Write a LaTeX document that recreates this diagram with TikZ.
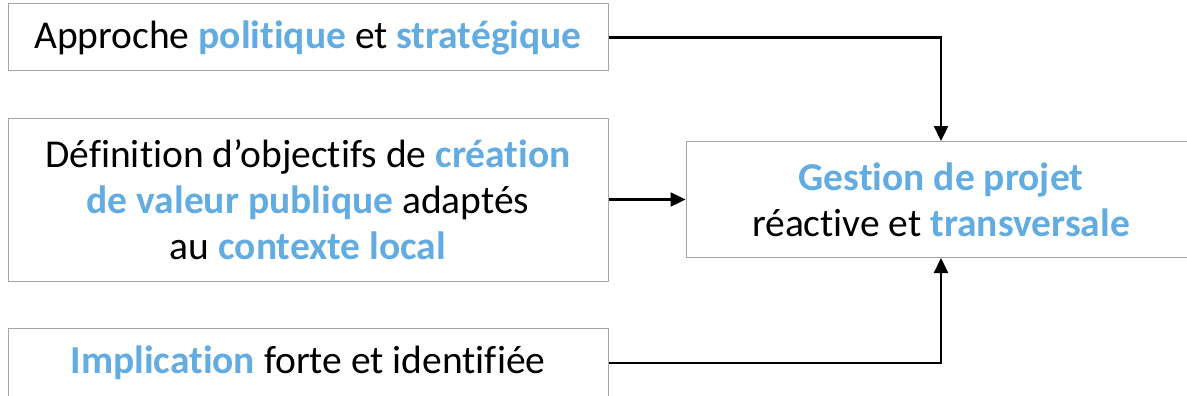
\documentclass[tikz,border=0pt]{standalone}
\usepackage{fontspec}
\setmainfont{Carlito}[Ligatures=NoCommon]
\usetikzlibrary{arrows.meta}
\definecolor{hl}{RGB}{98,172,226}
\definecolor{frame}{RGB}{165,165,165}
\newcommand{\hb}[1]{\textcolor{hl}{\textbf{#1}}}
\tikzset{
  box/.style={draw=frame, line width=1pt, fill=white, rectangle, align=center, inner sep=0pt,
    font=\fontsize{39.5}{46}\selectfont},
  arr/.style={draw=black, line width=2.4pt, -{Triangle[length=15pt,width=14pt]}}
}
\begin{document}
\begin{tikzpicture}[x=1pt,y=-1pt]
\useasboundingbox (0,0) rectangle (1187,396);
\clip (0,0) rectangle (1187,396);
\node[box, minimum width=600pt, minimum height=67pt] (b1) at (308,37.5) {Approche \hb{politique} et \hb{stratégique}};
\node[box, minimum width=600pt, minimum height=163pt] (b2) at (308,199.5) {Définition d’objectifs de \hb{création}\\\hb{de valeur publique} adaptés\\au \hb{contexte local}};
\node[box, minimum width=600pt, minimum height=70pt] (b3) at (308,363) {\hb{Implication} forte et identifiée};
\node[box, minimum width=510pt, minimum height=116pt] (g) at (941,199.5) {\hb{Gestion de projet}\\réactive et \hb{transversale}};
\draw[arr] (b1.east) -| (g.north);
\draw[arr] (b2.east) -- (g.west);
\draw[arr] (b3.east) -| (g.south);
\end{tikzpicture}
\end{document}
